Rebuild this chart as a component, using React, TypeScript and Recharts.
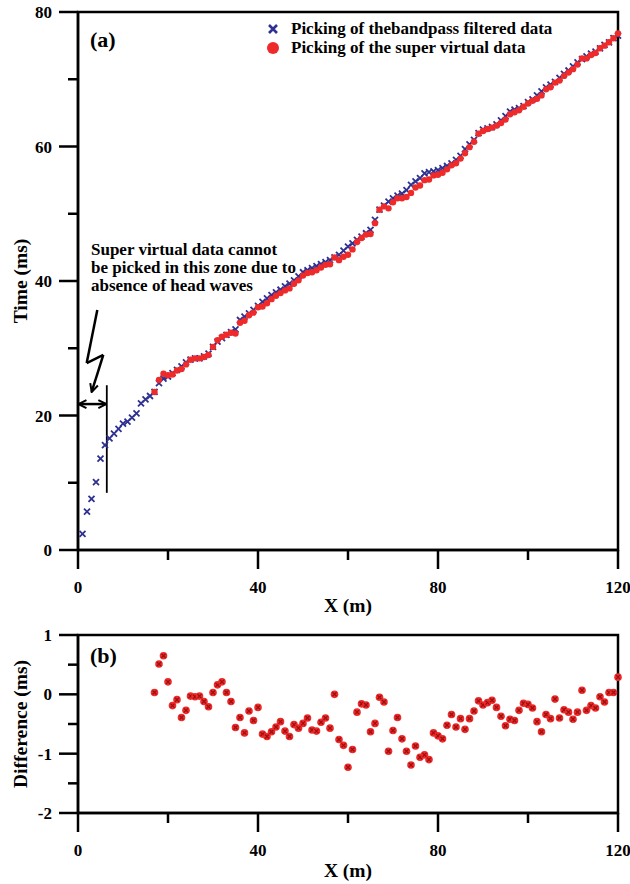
import React from "react";
import {
  Customized,
  Legend,
  ReferenceArea,
  ReferenceLine,
  Scatter,
  ScatterChart,
  XAxis,
  YAxis,
} from "recharts";

const FONT = '"Liberation Serif", "Times New Roman", serif';
const BLUE = "#2e3192";
const RED = "#ee2a2a";

// receiver offsets (m)
const offsets = [
  1, 2, 3, 4, 5, 6, 7, 8, 9, 10, 11, 12, 13, 14, 15, 16, 17, 18, 19, 20,
  21, 22, 23, 24, 25, 26, 27, 28, 29, 30, 31, 32, 33, 34, 35, 36, 37, 38, 39, 40,
  41, 42, 43, 44, 45, 46, 47, 48, 49, 50, 51, 52, 53, 54, 55, 56, 57, 58, 59, 60,
  61, 62, 63, 64, 65, 66, 67, 68, 69, 70, 71, 72, 73, 74, 75, 76, 77, 78, 79, 80,
  81, 82, 83, 84, 85, 86, 87, 88, 89, 90, 91, 92, 93, 94, 95, 96, 97, 98, 99, 100,
  101, 102, 103, 104, 105, 106, 107, 108, 109, 110, 111, 112, 113, 114, 115, 116, 117, 118, 119, 120,
];

// first-break picks on the bandpass filtered data (ms), one per offset
const bandpassTimes = [
  2.4, 5.7, 7.6, 10.1, 13.6, 15.6, 16.6, 17.3, 18.0, 18.8,
  19.1, 19.7, 20.3, 21.8, 22.4, 22.9, 23.5, 24.8, 25.5, 25.8,
  26.3, 26.8, 27.3, 27.9, 28.3, 28.5, 28.5, 28.8, 29.2, 30.2,
  31.0, 31.5, 32.0, 32.4, 32.8, 34.2, 34.7, 35.2, 35.7, 36.3,
  36.9, 37.4, 37.9, 38.3, 38.7, 39.2, 39.6, 40.1, 40.7, 41.3,
  41.6, 41.9, 42.2, 42.5, 42.8, 43.1, 43.5, 43.9, 44.5, 45.1,
  45.6, 46.1, 46.6, 47.1, 47.6, 49.1, 50.6, 51.2, 51.8, 52.3,
  52.7, 53.0, 53.5, 54.3, 54.8, 55.3, 56.0, 56.2, 56.3, 56.5,
  56.8, 57.1, 57.5, 58.0, 58.6, 59.6, 60.3, 61.0, 62.0, 62.5,
  62.7, 62.9, 63.3, 63.9, 64.5, 65.2, 65.5, 65.7, 66.0, 66.6,
  67.0, 67.6, 68.2, 68.8, 69.2, 69.6, 70.2, 70.8, 71.3, 71.9,
  72.5, 73.0, 73.4, 73.8, 74.1, 74.6, 75.1, 75.5, 76.1, 76.5,
];

// picks on the super virtual data (ms), offsets 17..120
const superVirtualTimes = [
  23.5, 25.3, 26.2, 26.0, 26.1, 26.7, 26.9, 27.6, 28.3, 28.5,
  28.5, 28.7, 29.0, 30.2, 31.2, 31.7, 32.0, 32.3, 32.2, 33.8,
  34.1, 34.9, 35.3, 36.1, 36.2, 36.7, 37.3, 37.8, 38.2, 38.6,
  38.9, 39.6, 40.1, 40.8, 41.2, 41.3, 41.6, 42.0, 42.4, 42.5,
  43.5, 43.1, 43.6, 43.9, 44.7, 45.8, 46.4, 46.9, 47.0, 48.6,
  50.6, 51.1, 50.8, 51.7, 52.3, 52.3, 52.5, 53.1, 53.9, 54.2,
  55.0, 55.1, 55.7, 55.8, 56.1, 56.6, 57.2, 57.5, 58.2, 59.0,
  59.9, 60.7, 61.9, 62.3, 62.6, 62.8, 63.1, 63.5, 64.0, 64.8,
  65.1, 65.4, 65.9, 66.4, 66.8, 67.1, 67.6, 68.5, 68.8, 69.5,
  69.8, 70.5, 71.0, 71.5, 72.2, 73.1, 73.1, 73.6, 73.9, 74.6,
  75.0, 75.5, 76.1, 76.8,
];

// difference between the two pickings (ms), offsets 17..120
const pickDifference = [
  0.03, 0.51, 0.65, 0.21, -0.19, -0.09, -0.39, -0.27, -0.03, -0.04,
  -0.03, -0.12, -0.21, 0.03, 0.16, 0.21, 0.03, -0.12, -0.56, -0.39,
  -0.65, -0.28, -0.44, -0.22, -0.67, -0.71, -0.63, -0.55, -0.46, -0.62,
  -0.71, -0.51, -0.57, -0.49, -0.4, -0.6, -0.62, -0.47, -0.4, -0.57,
  0.0, -0.76, -0.86, -1.23, -0.93, -0.3, -0.16, -0.18, -0.63, -0.49,
  -0.05, -0.13, -0.96, -0.61, -0.39, -0.75, -0.96, -1.19, -0.87, -1.06,
  -1.02, -1.1, -0.65, -0.7, -0.75, -0.52, -0.34, -0.55, -0.41, -0.59,
  -0.41, -0.28, -0.11, -0.18, -0.14, -0.1, -0.22, -0.37, -0.53, -0.42,
  -0.44, -0.27, -0.15, -0.17, -0.23, -0.46, -0.63, -0.34, -0.41, -0.08,
  -0.4, -0.26, -0.3, -0.42, -0.3, 0.07, -0.27, -0.19, -0.23, -0.04,
  -0.13, 0.03, 0.03, 0.29,
];

const xTicks = [0, 20, 40, 60, 80, 100, 120];
const timeTicks = [0, 10, 20, 30, 40, 50, 60, 70, 80];
const diffTicks = [-2, -1.5, -1, -0.5, 0, 0.5, 1];

const legendLabels = [
  "Picking of thebandpass filtered data",
  "Picking of the super virtual data",
];
const noteLines = [
  "Super virtual data cannot",
  "be picked in this zone due to",
  "absence of head waves",
];

const superOffsets = offsets.slice(offsets.length - superVirtualTimes.length);
const bandpassData = offsets.map((x, i) => ({ x, y: bandpassTimes[i] }));
const superData = superOffsets.map((x, i) => ({ x, y: superVirtualTimes[i] }));
const diffData = superOffsets.map((x, i) => ({ x, y: pickDifference[i] }));

const textStyle = { fontFamily: FONT, fontWeight: 700, fill: "#000" };
const axisLine = { stroke: "#000", strokeWidth: 2.5 };

function isMultiple(v: number, step: number) {
  return Math.abs(v / step - Math.round(v / step)) < 1e-6;
}

// outward ticks, long with a label on majors, short on minors
function YTick(props: any) {
  const { x, y, payload, step } = props;
  const major = isMultiple(payload.value, step);
  const len = major ? 19 : 10;
  return (
    <g>
      <line x1={x - len} x2={x} y1={y} y2={y} stroke="#000" strokeWidth={2.5} />
      {major && (
        <text x={x - len - 7} y={y} dy={6} textAnchor="end" fontSize={17} {...textStyle}>
          {payload.value}
        </text>
      )}
    </g>
  );
}

function XTick(props: any) {
  const { x, y, payload } = props;
  const major = isMultiple(payload.value, 40);
  const len = major ? 19 : 10;
  return (
    <g>
      <line x1={x} x2={x} y1={y} y2={y + len} stroke="#000" strokeWidth={2.5} />
      {major && (
        <text x={x} y={y + 43} textAnchor="middle" fontSize={17} {...textStyle}>
          {payload.value}
        </text>
      )}
    </g>
  );
}

const BlueCross = (p: any) => (
  <path
    d={`M${p.cx - 3},${p.cy - 3}L${p.cx + 3},${p.cy + 3}M${p.cx - 3},${p.cy + 3}L${p.cx + 3},${p.cy - 3}`}
    stroke={BLUE}
    strokeWidth={1.8}
  />
);

const RedDot = (p: any) => <circle cx={p.cx} cy={p.cy} r={3.2} fill={RED} />;

const DiffStar = (p: any) => (
  <g>
    <circle cx={p.cx} cy={p.cy} r={3.8} fill={RED} />
    <path
      d={`M${p.cx - 2},${p.cy - 2}L${p.cx + 2},${p.cy + 2}M${p.cx - 2},${p.cy + 2}L${p.cx + 2},${p.cy - 2}`}
      stroke="#9b1010"
      strokeWidth={1.3}
    />
  </g>
);

function LegendBox() {
  const markers = [
    <path key="b" d="M3,3L11,11M3,11L11,3" stroke={BLUE} strokeWidth={2.6} />,
    <circle key="r" cx={7} cy={7} r={6} fill={RED} />,
  ];
  return (
    <div style={{ fontFamily: FONT, fontWeight: 700, fontSize: 17, lineHeight: "19px" }}>
      {legendLabels.map((label, i) => (
        <div key={label} style={{ display: "flex", alignItems: "center", height: 19 }}>
          <svg width={14} height={14} style={{ marginRight: 11 }}>
            {markers[i]}
          </svg>
          <span>{label}</span>
        </div>
      ))}
    </div>
  );
}

function TopNotes() {
  return (
    <g>
      <defs>
        <marker
          id="openArrow"
          viewBox="0 0 10 10"
          refX={9}
          refY={5}
          markerWidth={4}
          markerHeight={4}
          orient="auto-start-reverse"
          markerUnits="strokeWidth"
        >
          <path d="M1,1 L9,5 L1,9" fill="none" stroke="#000" strokeWidth={2} />
        </marker>
      </defs>
      <text x={90} y={47} fontSize={22} {...textStyle}>
        (a)
      </text>
      {noteLines.map((line, i) => (
        <text key={line} x={91} y={255 + i * 18} fontSize={17} {...textStyle}>
          {line}
        </text>
      ))}
    </g>
  );
}

function BottomNotes() {
  return (
    <text x={90} y={43} fontSize={22} {...textStyle}>
      (b)
    </text>
  );
}

const axisTitle = { fontSize: 19.5, fontWeight: 700, fontFamily: FONT, fill: "#000" };

export default function App() {
  return (
    <div style={{ position: "absolute", left: 0, top: 0, width: 630, height: 884, background: "#fff" }}>
      <div style={{ position: "absolute", left: 0, top: 0 }}>
        <ScatterChart width={630} height={620} margin={{ top: 12, right: 12, bottom: 0, left: 0 }}>
          <XAxis
            type="number"
            dataKey="x"
            domain={[0, 120]}
            ticks={xTicks}
            interval={0}
            height={70}
            tickSize={0}
            tickMargin={0}
            tickLine={false}
            axisLine={axisLine}
            tick={<XTick />}
            label={{ value: "X (m)", position: "insideBottom", offset: 8, ...axisTitle }}
          />
          <YAxis
            type="number"
            dataKey="y"
            domain={[0, 80]}
            ticks={timeTicks}
            interval={0}
            width={78}
            tickSize={0}
            tickMargin={0}
            tickLine={false}
            axisLine={axisLine}
            tick={<YTick step={20} />}
            label={{ value: "Time (ms)", angle: -90, position: "center", dx: -19, ...axisTitle }}
          />
          <ReferenceArea x1={0} x2={120} y1={0} y2={80} fill="none" stroke="#000" strokeWidth={2.5} />
          <Scatter name={legendLabels[0]} data={bandpassData} fill={BLUE} shape={BlueCross} isAnimationActive={false} />
          <Scatter name={legendLabels[1]} data={superData} fill={RED} shape={RedDot} isAnimationActive={false} />
          <ReferenceLine segment={[{ x: 4.29, y: 35.7 }, { x: 1.93, y: 27.8 }]} stroke="#000" strokeWidth={2.5} />
          <ReferenceLine segment={[{ x: 1.93, y: 27.8 }, { x: 5.62, y: 29.0 }]} stroke="#000" strokeWidth={2.5} />
          <ReferenceLine
            segment={[{ x: 5.62, y: 29.0 }, { x: 3.04, y: 23.5 }]}
            stroke="#000"
            strokeWidth={2.5}
            markerEnd="url(#openArrow)"
          />
          <ReferenceLine
            segment={[{ x: 0.1, y: 21.7 }, { x: 6.3, y: 21.7 }]}
            stroke="#000"
            strokeWidth={2.5}
            markerStart="url(#openArrow)"
            markerEnd="url(#openArrow)"
          />
          <ReferenceLine segment={[{ x: 6.4, y: 8.5 }, { x: 6.4, y: 24.5 }]} stroke="#000" strokeWidth={1.8} />
          <Customized component={TopNotes} />
          <Legend
            content={<LegendBox />}
            layout="vertical"
            verticalAlign="middle"
            align="center"
            wrapperStyle={{ top: 19, left: 266, width: 340 }}
          />
        </ScatterChart>
      </div>
      <div style={{ position: "absolute", left: 0, top: 620 }}>
        <ScatterChart width={630} height={264} margin={{ top: 15, right: 12, bottom: 0, left: 0 }}>
          <XAxis
            type="number"
            dataKey="x"
            domain={[0, 120]}
            ticks={xTicks}
            interval={0}
            height={71}
            tickSize={0}
            tickMargin={0}
            tickLine={false}
            axisLine={axisLine}
            tick={<XTick />}
            label={{ value: "X (m)", position: "insideBottom", offset: 7, ...axisTitle }}
          />
          <YAxis
            type="number"
            dataKey="y"
            domain={[-2, 1]}
            ticks={diffTicks}
            interval={0}
            width={78}
            tickSize={0}
            tickMargin={0}
            tickLine={false}
            axisLine={axisLine}
            tick={<YTick step={1} />}
            label={{ value: "Difference (ms)", angle: -90, position: "center", dx: -19, ...axisTitle }}
          />
          <ReferenceArea x1={0} x2={120} y1={-2} y2={1} fill="none" stroke="#000" strokeWidth={2.5} />
          <Scatter data={diffData} fill={RED} shape={DiffStar} isAnimationActive={false} />
          <Customized component={BottomNotes} />
        </ScatterChart>
      </div>
    </div>
  );
}
